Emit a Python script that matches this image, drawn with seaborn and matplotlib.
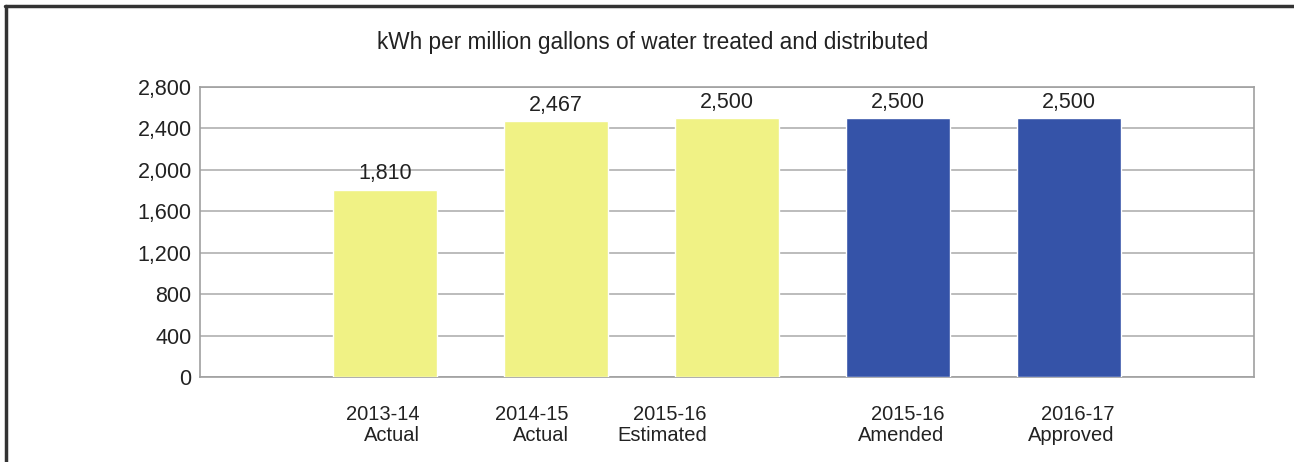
import matplotlib
matplotlib.use("Agg")
import matplotlib.pyplot as plt
import matplotlib.transforms as mtransforms
from matplotlib.lines import Line2D
import seaborn as sns
import pandas as pd

# chart data
categories = ["2013-14\nActual", "2014-15\nActual", "2015-16\nEstimated",
              "2015-16\nAmended", "2016-17\nApproved"]
kwh_values = [1810, 2467, 2500, 2500, 2500]
bar_colors = ["#F0F285", "#F0F285", "#F0F285", "#3553A8", "#3553A8"]
y_ticks = [0, 400, 800, 1200, 1600, 2000, 2400, 2800]
title = "kWh per million gallons of water treated and distributed"

df = pd.DataFrame({"Category": categories, "kWh": kwh_values})

sns.set_style("white")
plt.rcParams["font.family"] = ["Liberation Sans", "DejaVu Sans"]

fig = plt.figure(figsize=(12.94, 4.62), dpi=100)
ax = fig.add_axes([0.1546, 0.184, 0.8144, 0.6277])

sns.barplot(data=df, x="Category", y="kWh", hue="Category",
            palette=bar_colors, legend=False, width=0.61,
            saturation=1, ax=ax, zorder=3)

ax.set_xlim(-1.08, 5.08)
ax.set_ylim(0, 2800)
ax.set_yticks(y_ticks)
ax.set_yticklabels([f"{v:,}" for v in y_ticks], fontsize=15.5, color="#222222")
ax.yaxis.grid(True, color="#B0B0B0", linewidth=1.2, zorder=0)
ax.set_axisbelow(True)
ax.set_xlabel("")
ax.set_ylabel("")
ax.tick_params(axis="both", length=0)
ax.tick_params(axis="y", pad=6)
ax.tick_params(axis="x", pad=20)

for side in ["left", "right", "top", "bottom"]:
    ax.spines[side].set_visible(True)
    ax.spines[side].set_color("#A0A0A0")
    ax.spines[side].set_linewidth(1.2)

# category labels, right-aligned lines, nudged like the original
label_shift = [-2, -24, -65, 3, 2]
for lbl, dx in zip(ax.get_xticklabels(), label_shift):
    lbl.set_fontsize(14.5)
    lbl.set_color("#222222")
    lbl.set_multialignment("right")
    lbl.set_linespacing(1.12)
    lbl.set_transform(lbl.get_transform() +
                      mtransforms.ScaledTranslation(dx / 100, 0, fig.dpi_scale_trans))

for cont in ax.containers:
    ax.bar_label(cont, fmt="{:,.0f}", fontsize=15.5, color="#222222", padding=4)

fig.text(0.504, 1 - 42 / 462, title, ha="center", va="center",
         fontsize=16.3, color="#222222")

# page border fragments (top and left edge)
fig.add_artist(Line2D([5 / 1294, 1], [1 - 6 / 462, 1 - 6 / 462],
                      transform=fig.transFigure, color="#333333", linewidth=2.5))
fig.add_artist(Line2D([6 / 1294, 6 / 1294], [0, 1 - 6 / 462],
                      transform=fig.transFigure, color="#333333", linewidth=2.5))

fig.savefig("out.png", dpi=100, facecolor="white")
